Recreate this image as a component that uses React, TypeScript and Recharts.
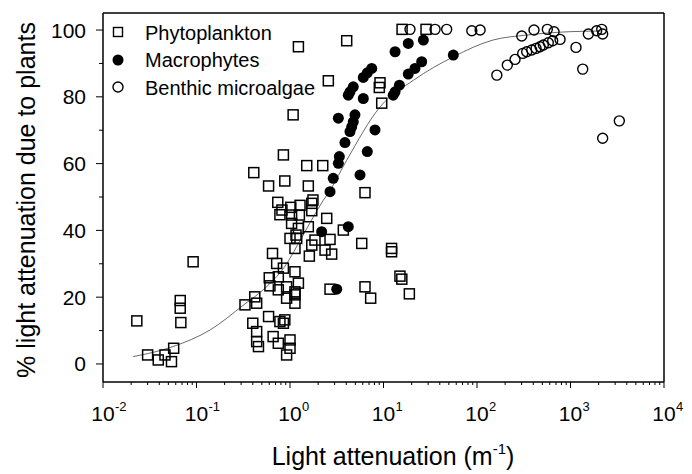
import { ScatterChart, Scatter, XAxis, YAxis } from "recharts";

const FONT = "'Liberation Sans', Arial, Helvetica, sans-serif";

// Phytoplankton (open squares)
const phytoX = [
  0.023, 0.03, 0.039, 0.046, 0.054, 0.057, 0.067, 0.067, 0.068, 0.092,
  0.33, 0.42, 0.44, 0.4, 0.44, 0.44, 0.46, 0.59, 0.66, 0.75,
  0.78, 0.88, 1.0, 1.0, 0.92, 0.85, 0.65, 0.72, 0.85, 1.13,
  0.6, 0.75, 0.61, 0.75, 0.92, 1.13, 1.13, 0.59, 0.88, 0.74,
  1.02, 0.78, 1.04, 1.04, 1.0, 1.16, 1.13, 0.41, 0.85, 1.08,
  1.23, 0.82, 1.28, 1.71, 1.71, 1.26, 1.23, 1.57, 2.47, 1.18,
  1.85, 2.68, 1.71, 2.37, 2.79, 1.61, 3.72, 5.85, 12.2, 12.2,
  15.0, 15.7, 18.9, 6.34, 7.29, 2.68, 1.23, 0.92, 1.13, 1.57,
  1.51, 2.24, 6.34, 1.76, 4.04, 2.57, 9.18, 9.02, 9.57, 15.8,
  28.5,
];
const phytoY = [
  12.9, 2.7, 1.2, 2.7, 0.7, 4.7, 19.0, 16.7, 12.4, 30.6,
  17.7, 20.1, 18.2, 12.2, 9.7, 6.7, 5.2, 14.2, 8.2, 6.2,
  12.7, 13.2, 7.2, 4.7, 2.7, 12.2, 33.1, 30.1, 28.7, 27.6,
  25.8, 26.1, 23.4, 22.2, 19.7, 20.7, 18.2, 53.3, 54.8, 48.4,
  46.9, 44.7, 44.6, 42.1, 37.6, 38.6, 34.6, 57.3, 62.6, 74.6,
  95.0, 46.1, 47.5, 48.1, 45.9, 44.6, 40.6, 41.1, 43.6, 37.6,
  37.1, 37.3, 35.6, 34.1, 32.9, 32.3, 40.1, 36.1, 34.6, 33.6,
  26.3, 25.4, 21.0, 23.1, 19.7, 22.4, 24.2, 23.1, 21.6, 53.3,
  59.4, 59.4, 51.3, 49.1, 96.8, 84.8, 84.2, 82.8, 78.1, 100.2,
  100.2,
];

// Macrophytes (filled circles)
const macroX = [
  26.7, 18.4, 13.3, 55.8, 25.6, 21.7, 18.4, 7.48, 6.71, 6.08,
  14.8, 13.3, 12.7, 4.75, 4.38, 4.2, 6.08, 3.29, 4.95, 4.75,
  4.57, 4.38, 8.11, 3.87, 6.71, 3.37, 3.29, 5.61, 2.9, 2.68,
  2.18, 4.2, 3.16,
];
const macroY = [
  97.0, 96.0, 93.5, 92.5, 90.5, 88.5, 86.8, 88.5, 87.2, 85.8,
  83.5, 81.5, 80.5, 83.0, 81.5, 80.5, 79.5, 73.6, 74.6, 72.5,
  71.0, 69.6, 70.1, 66.3, 63.6, 62.1, 60.1, 56.6, 55.6, 51.6,
  39.6, 41.1, 22.4,
];

// Benthic microalgae (open circles)
const benthicX = [
  19.2, 35.6, 47.4, 88, 108, 163, 211, 255, 308, 340,
  385, 428, 472, 512, 579, 645, 773, 301, 407, 565,
  667, 1145, 1351, 1552, 1905, 2158, 2208, 3327, 2208,
];
const benthicY = [
  100.2, 100.2, 100.2, 99.8, 100, 86.5, 89.5, 91.2, 93.0, 93.5,
  94.0, 94.5, 95.0, 95.5, 96.2, 96.8, 97.2, 98.2, 100, 100.2,
  99.5, 94.8, 88.3, 98.8, 99.8, 100.2, 98.8, 72.8, 67.6,
];

// fitted curve
const curveX = [0.021, 0.056, 0.14, 0.32, 0.56, 0.92, 1.17, 2.27, 2.68, 4.04, 9.2, 21, 56, 148, 340, 980, 2100];
const curveY = [2.2, 5.2, 10.2, 17.7, 23.1, 30, 35, 49, 52, 61, 77, 85, 92, 97, 98.5, 99.5, 99.7];

const xDecades = [0.01, 0.1, 1, 10, 100, 1000, 10000];
const yMajor = [0, 20, 40, 60, 80, 100];
const yMinor = [10, 30, 50, 70, 90];

const legendItems = ["Phytoplankton", "Macrophytes", "Benthic microalgae"];

const zip = (xs: number[], ys: number[]) => xs.map((x, i) => ({ x, y: ys[i] }));

const phyto = zip(phytoX, phytoY);
const macro = zip(macroX, macroY);
const benthic = zip(benthicX, benthicY);
const curve = zip(curveX, curveY);

// major + minor ticks for the log axis
const xTicks: number[] = [];
xDecades.forEach((d, i) => {
  xTicks.push(d);
  if (i < xDecades.length - 1) for (let m = 2; m <= 9; m++) xTicks.push(+(d * m).toPrecision(3));
});
const yTicks = [...yMajor, ...yMinor].sort((a, b) => a - b);

const isMajorX = (v: number) => {
  const l = Math.log10(v);
  return Math.abs(l - Math.round(l)) < 1e-6;
};

const XTick = ({ x, y, payload }: any) => {
  const v = payload.value;
  const major = isMajorX(v);
  const e = Math.round(Math.log10(v));
  return (
    <g>
      <line x1={x} x2={x} y1={y} y2={y + (major ? 6 : 3)} stroke="#000" strokeWidth={1} />
      {major && (
        <>
          <text x={x} y={y + 39} textAnchor="middle" fontSize={21} fontFamily={FONT} fill="#000">
            10
          </text>
          <text x={x + 12} y={y + 29} textAnchor="start" fontSize={13} fontFamily={FONT} fill="#000">
            {e}
          </text>
        </>
      )}
    </g>
  );
};

const YTick = ({ x, y, payload }: any) => {
  const major = yMajor.includes(payload.value);
  return (
    <g>
      <line x1={x - (major ? 7 : 4)} x2={x} y1={y} y2={y} stroke="#000" strokeWidth={1} />
      {major && (
        <text x={x - 17} y={y + 7.5} textAnchor="end" fontSize={21} fontFamily={FONT} fill="#000">
          {payload.value}
        </text>
      )}
    </g>
  );
};

const Square = (p: any) => (
  <rect x={p.cx - 5} y={p.cy - 5} width={10} height={10} fill="none" stroke="#000" strokeWidth={1.5} />
);
const Dot = (p: any) => <circle cx={p.cx} cy={p.cy} r={5.5} fill="#000" />;
const Ring = (p: any) => <circle cx={p.cx} cy={p.cy} r={5} fill="none" stroke="#000" strokeWidth={1.4} />;
const Nothing = () => <g />;

const frame = { stroke: "#000", strokeWidth: 1.5 };

export default function App() {
  return (
    <div style={{ position: "absolute", left: 0, top: 0, width: 692, height: 474, background: "#fff" }}>
      <ScatterChart width={692} height={474} margin={{ top: 12, right: 27, bottom: 91, left: 102 }}>
        <XAxis
          dataKey="x"
          type="number"
          scale="log"
          domain={[0.01, 10000]}
          allowDataOverflow
          ticks={xTicks}
          interval={0}
          tickSize={0}
          tickMargin={0}
          tickLine={false}
          tick={(p: any) => <XTick {...p} />}
          axisLine={frame}
          height={1}
        />
        <XAxis
          xAxisId="top"
          orientation="top"
          type="number"
          scale="log"
          domain={[0.01, 10000]}
          allowDataOverflow
          tick={false}
          tickLine={false}
          axisLine={frame}
          height={1}
        />
        <YAxis
          dataKey="y"
          type="number"
          domain={[-5.4, 105.1]}
          allowDataOverflow
          ticks={yTicks}
          interval={0}
          tickSize={0}
          tickMargin={0}
          tickLine={false}
          tick={(p: any) => <YTick {...p} />}
          axisLine={frame}
          width={1}
        />
        <YAxis
          yAxisId="right"
          orientation="right"
          type="number"
          domain={[-5.4, 105.1]}
          allowDataOverflow
          tick={false}
          tickLine={false}
          axisLine={frame}
          width={1}
        />
        <Scatter
          data={curve}
          line={{ stroke: "#444", strokeWidth: 0.8 }}
          lineType="joint"
          lineJointType="monotoneX"
          shape={Nothing}
          isAnimationActive={false}
        />
        <Scatter data={phyto} shape={Square} isAnimationActive={false} />
        <Scatter data={macro} shape={Dot} isAnimationActive={false} />
        <Scatter data={benthic} shape={Ring} isAnimationActive={false} />
      </ScatterChart>

      <svg
        width={692}
        height={474}
        style={{ position: "absolute", left: 0, top: 0, pointerEvents: "none" }}
        fontFamily={FONT}
      >
        {/* legend */}
        <rect x={113.5} y={27.5} width={9} height={9} fill="none" stroke="#000" strokeWidth={1.4} />
        <circle cx={118} cy={60} r={5.5} fill="#000" />
        <circle cx={118} cy={87} r={5} fill="none" stroke="#000" strokeWidth={1.4} />
        {legendItems.map((t, i) => (
          <text key={t} x={145} y={39.5 + i * 27.5} fontSize={20} fill="#000">
            {t}
          </text>
        ))}

        {/* axis titles */}
        <text x={393} y={465} textAnchor="middle" fontSize={25} fill="#000">
          Light attenuation (m
          <tspan fontSize={15} dy={-11}>-1</tspan>
          <tspan dy={11}>)</tspan>
        </text>
        <text
          transform="translate(35, 200) rotate(-90)"
          textAnchor="middle"
          fontSize={25}
          fill="#000"
        >
          % light attenuation due to plants
        </text>
      </svg>
    </div>
  );
}
